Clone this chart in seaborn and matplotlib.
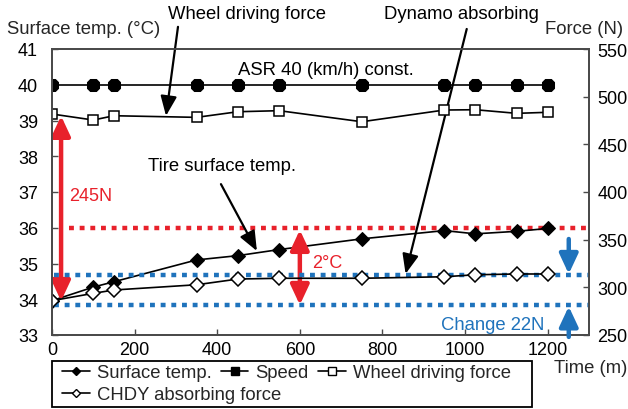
import matplotlib
matplotlib.use("Agg")
import matplotlib.pyplot as plt
from matplotlib.lines import Line2D
from matplotlib.patches import Rectangle
import seaborn as sns
import pandas as pd

# ---- data ----
time_m = [0, 100, 150, 350, 450, 550, 750, 950, 1025, 1125, 1200]
surface_temp = [33.96, 34.34, 34.49, 35.10, 35.22, 35.39, 35.69, 35.92, 35.83, 35.90, 35.98]
speed = [40, 40, 40, 40, 40, 40, 40, 40, 40, 40, 40]
wheel_force = [481.8, 475.5, 480.0, 478.3, 484.2, 485.3, 473.7, 486.0, 486.3, 482.5, 483.6]
chdy_force = [286.0, 293.7, 297.2, 302.7, 308.7, 309.5, 309.5, 311.1, 313.2, 314.0, 314.0]

temp_ticks = [33, 34, 35, 36, 37, 38, 39, 40, 41]
force_ticks = [250, 300, 350, 400, 450, 500, 550]
time_ticks = [0, 200, 400, 600, 800, 1000, 1200]

ref_temp = 36.0
ref_force_hi = 313.0
ref_force_lo = 281.0

df = pd.DataFrame({"time": time_m, "temp": surface_temp, "speed": speed,
                   "wheel": wheel_force, "chdy": chdy_force})

sns.set_style("ticks")
plt.rcParams["font.family"] = ["Liberation Sans", "DejaVu Sans"]

RED = "#E8212B"
BLUE = "#1F73BC"
SPINE = "#4a4a4a"
FS = 13.3

fig = plt.figure(figsize=(6.28, 4.10), dpi=100)
ax = fig.add_axes([52/628, 1-336/410, (589-52)/628, (336-50)/410])
ax2 = ax.twinx()

line_kw = dict(color="black", linewidth=1.2)
sns.lineplot(data=df, x="time", y="speed", ax=ax, marker="8", markersize=9.5,
             markerfacecolor="black", markeredgecolor="black", **line_kw)
sns.lineplot(data=df, x="time", y="temp", ax=ax, marker="D", markersize=7,
             markerfacecolor="black", markeredgecolor="black", **line_kw)
sns.lineplot(data=df, x="time", y="wheel", ax=ax2, marker="s", markersize=7,
             markerfacecolor="white", markeredgecolor="black", markeredgewidth=1.1, **line_kw)
sns.lineplot(data=df, x="time", y="chdy", ax=ax2, marker="D", markersize=7,
             markerfacecolor="white", markeredgecolor="black", markeredgewidth=1.1, **line_kw)

ax.set_xlim(0, 1300)
ax.set_ylim(33, 41)
ax2.set_ylim(250, 550)
ax.set_xticks(time_ticks)
ax.set_yticks(temp_ticks)
ax2.set_yticks(force_ticks)
for a in (ax, ax2):
    a.set_xlabel("")
    a.set_ylabel("")
    for s in a.spines.values():
        s.set_color(SPINE)
        s.set_linewidth(1.3)
ax.tick_params(axis="both", direction="in", length=4, width=1.0, color=SPINE,
               labelsize=13, colors="black")
ax.tick_params(axis="y", pad=10)
ax.tick_params(axis="x", pad=4)
ax2.tick_params(axis="y", direction="in", length=4, width=1.0, color=SPINE,
                labelsize=13, pad=6)
for lab in ax.get_xticklabels() + ax.get_yticklabels() + ax2.get_yticklabels():
    lab.set_color("black")

# reference dotted lines
ax.plot([40, 1300], [ref_temp, ref_temp], color=RED, lw=3.2, ls=(0, (1.1, 1.3)),
        dash_capstyle="butt", zorder=1)
ax2.plot([5, 1300], [ref_force_hi, ref_force_hi], color=BLUE, lw=3.2, ls=(0, (1.1, 1.3)),
         dash_capstyle="butt", zorder=1)
ax2.plot([5, 1300], [ref_force_lo, ref_force_lo], color=BLUE, lw=3.2, ls=(0, (1.1, 1.3)),
         dash_capstyle="butt", zorder=1)

# black pointer arrows
blk = dict(arrowstyle="-|>,head_length=0.8,head_width=0.33", mutation_scale=15,
           color="black", lw=1.6, shrinkA=0, shrinkB=0)
ax.annotate("", xy=(276, 39.13), xytext=(305, 41.62), arrowprops=blk, annotation_clip=False)
ax.annotate("", xy=(856, 34.71), xytext=(1004, 41.56), arrowprops=blk, annotation_clip=False)
ax.annotate("", xy=(496, 35.35), xytext=(409, 37.22), arrowprops=blk, annotation_clip=False)

txt = dict(fontsize=FS, color="black")
ax.text(472, 41.98, "Wheel driving force", ha="center", va="center", clip_on=False, **txt)
ax.text(990, 41.98, "Dynamo absorbing", ha="center", va="center", clip_on=False, **txt)
ax.text(411, 37.73, "Tire surface temp.", ha="center", va="center", **txt)
ax.text(663, 40.44, "ASR 40 (km/h) const.", ha="center", va="center", **txt)

# red double arrows
red_arr = dict(arrowstyle="<|-|>,head_length=0.75,head_width=0.35", mutation_scale=16,
               color=RED, lw=3.2, shrinkA=0, shrinkB=0)
ax.annotate("", xy=(22, 39.13), xytext=(22, 33.95), arrowprops=red_arr)
ax.annotate("", xy=(600, 35.94), xytext=(600, 33.84), arrowprops=red_arr)
ax.text(41, 36.89, "245N", ha="left", va="center", fontsize=13, color=RED)
ax.text(629, 35.04, "2°C", ha="left", va="center", fontsize=13, color=RED)

# blue arrows
blue_arr = dict(arrowstyle="-|>,head_length=0.75,head_width=0.35", mutation_scale=16,
                color=BLUE, lw=3.2, shrinkA=0, shrinkB=0)
ax2.annotate("", xy=(1251, 314), xytext=(1251, 350.7), arrowprops=blue_arr, annotation_clip=False)
ax2.annotate("", xy=(1251, 280), xytext=(1251, 248), arrowprops=blue_arr, annotation_clip=False)
ax2.text(941, 261.5, "Change 22N", ha="left", va="center", fontsize=FS, color=BLUE)

# axis titles
fig.text(7/628, 1-29/410, "Surface temp. (°C)", ha="left", va="center", fontsize=FS)
fig.text(623/628, 1-30/410, "Force (N)", ha="right", va="center", fontsize=FS)
fig.text(627/628, 1-369/410, "Time (m)", ha="right", va="center", fontsize=FS)

# legend: first row (3 entries) + second row (1 entry) inside one frame
def h(marker, fc, ms):
    return Line2D([], [], color="black", lw=1.2, marker=marker, markersize=ms,
                  markerfacecolor=fc, markeredgecolor="black", markeredgewidth=1.0)
leg_kw = dict(loc="upper left", fontsize=FS, frameon=False, borderaxespad=0,
              handlelength=1.5, handletextpad=0.38, columnspacing=0.5, borderpad=0)
fig.legend([h("D", "black", 4.5), h("s", "black", 5.5), h("s", "white", 5.5)],
           ["Surface temp.", "Speed", "Wheel driving force"],
           bbox_to_anchor=(62/628, 1-365/410), ncol=3, **leg_kw)
fig.legend([h("D", "white", 4.5)], ["CHDY absorbing force"],
           bbox_to_anchor=(62/628, 1-387/410), ncol=1, **leg_kw)
fig.add_artist(Rectangle((52/628, 1-408/410), 480/628, 46/410, transform=fig.transFigure,
                         fill=False, edgecolor="black", linewidth=1.3))

fig.savefig("out.png", dpi=100)
